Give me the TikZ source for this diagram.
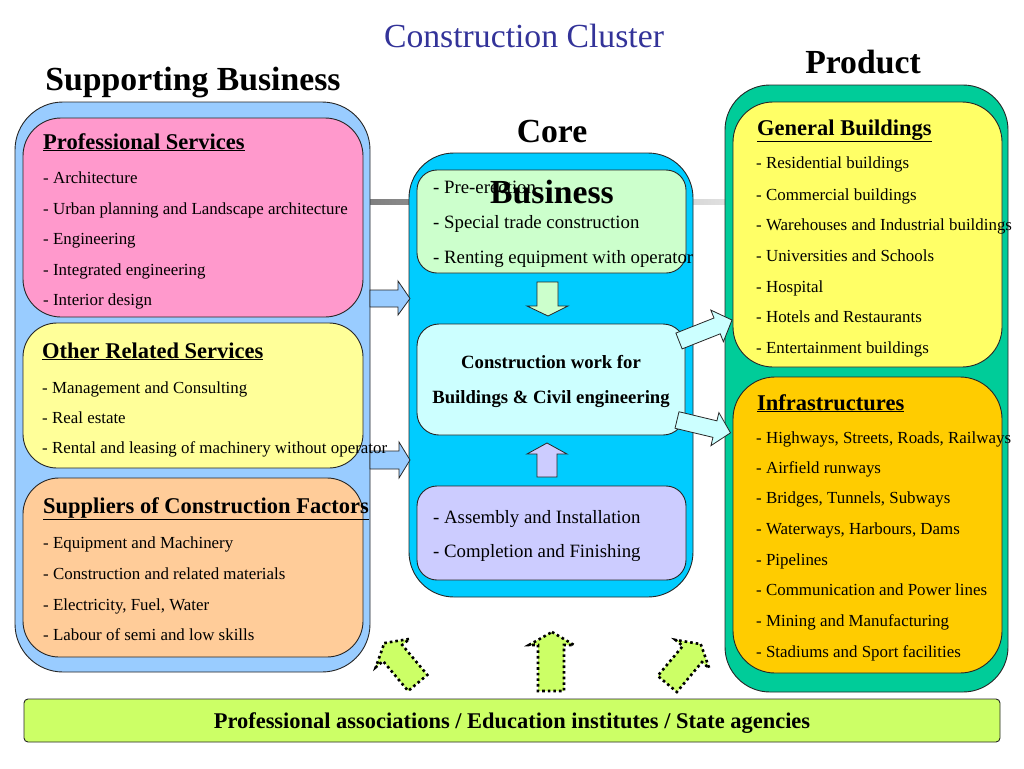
\documentclass[tikz,border=0pt]{standalone}
\usepackage{fontspec}
\setmainfont{Liberation Serif}
\definecolor{titleblue}{HTML}{333399}
\definecolor{lblue}{HTML}{99CCFF}
\definecolor{pinkbox}{HTML}{FF99CC}
\definecolor{lyellow}{HTML}{FFFF99}
\definecolor{lorange}{HTML}{FFCC99}
\definecolor{cyanpanel}{HTML}{00CCFF}
\definecolor{lgreen}{HTML}{CCFFCC}
\definecolor{lcyan}{HTML}{CCFFFF}
\definecolor{lavender}{HTML}{CCCCFF}
\definecolor{tealpanel}{HTML}{00CC99}
\definecolor{ryellow}{HTML}{FFFF66}
\definecolor{rorange}{HTML}{FFCC00}
\definecolor{barlime}{HTML}{CCFF66}
\begin{document}
\begin{tikzpicture}[x=1pt,y=-1pt,
  box/.style={draw=black!85, line width=0.9pt, inner sep=0pt, anchor=center, rectangle},
  item/.style={anchor=base west, inner sep=0pt, font=\fontsize{16.9}{19}\selectfont},
  citem/.style={anchor=base west, inner sep=0pt, font=\fontsize{18.8}{22}\selectfont},
  head/.style={anchor=base west, inner sep=0pt, font=\fontsize{22.5}{26}\selectfont\bfseries},
  ttl/.style={anchor=base, inner sep=0pt, font=\fontsize{33.7}{38}\selectfont\bfseries},
  barrow/.style={draw=black!85, line width=0.8pt, line join=miter},
  dotarrow/.style={draw=black, fill=barlime, line width=2.6pt, dash pattern=on 2.6pt off 3pt}]
\useasboundingbox (0,0) rectangle (1024,768);
\fill[white] (0,0) rectangle (1024,768);

% titles
\node[anchor=base, inner sep=0pt, font=\fontsize{33.7}{38}\selectfont, text=titleblue] (title) at (524,48) {Construction Cluster};
\node[ttl] (tsup) at (193,90) {Supporting Business};
\node[ttl] (tprod) at (863,74) {Product};
\node[ttl] (tcore) at (552,142) {Core};

% gray line behind core
\shade[left color=black!50, right color=black!12] (370,199.5) rectangle (725,204.5);

% left panel
\node[box, fill=lblue, rounded corners=48pt, minimum width=355pt, minimum height=570pt] (lpanel) at (192.5,387) {};
\node[box, fill=pinkbox, rounded corners=38pt, minimum width=340pt, minimum height=199pt] (prof) at (193,217.5) {};
\node[box, fill=lyellow, rounded corners=34pt, minimum width=340pt, minimum height=145pt] (other) at (193,395.5) {};
\node[box, fill=lorange, rounded corners=36pt, minimum width=340pt, minimum height=179pt] (supp) at (193,567.5) {};

% center panel
\node[box, fill=cyanpanel, rounded corners=45pt, minimum width=284pt, minimum height=444pt] (cpanel) at (551,375) {};
\node[box, fill=lgreen, rounded corners=20pt, minimum width=269pt, minimum height=103pt] (pre) at (551.5,221.5) {};
\node[box, fill=lcyan, rounded corners=22pt, minimum width=268pt, minimum height=111pt] (work) at (551,379.5) {};
\node[box, fill=lavender, rounded corners=20pt, minimum width=269pt, minimum height=94pt] (assy) at (551.5,533) {};

% right panel
\node[box, fill=tealpanel, rounded corners=45pt, minimum width=283pt, minimum height=607pt] (rpanel) at (866.5,388.5) {};
\node[box, fill=ryellow, rounded corners=40pt, minimum width=269pt, minimum height=265pt] (gen) at (867.5,234.5) {};
\node[box, fill=rorange, rounded corners=42pt, minimum width=269pt, minimum height=296pt] (infra) at (867.5,525) {};

% bottom bar
\node[box, fill=barlime, rounded corners=4pt, minimum width=976pt, minimum height=43pt] (bar) at (512,720.5) {};
\node[anchor=base, inner sep=0pt, font=\fontsize{22.45}{26}\selectfont\bfseries] (bartext) at (512,728) {Professional associations / Education institutes / State agencies};

% left to center arrows
\draw[barrow, fill=lblue] (370,290) -- (398,290) -- (398,281) -- (410,298.5) -- (398,315) -- (398,307) -- (370,307) -- cycle;
\draw[barrow, fill=lblue] (370,451) -- (399,451) -- (399,442) -- (410,460) -- (399,478) -- (399,469) -- (370,469) -- cycle;

% inner center arrows
\draw[barrow, fill=lgreen] (537,282) -- (558,282) -- (558,306) -- (568,306) -- (548,316) -- (527,306) -- (537,306) -- cycle;
\draw[barrow, fill=lavender] (537,477) -- (557,477) -- (557,454) -- (567,454) -- (547,443) -- (527,454) -- (537,454) -- cycle;

% center to right arrows
\begin{scope}[shift={(679,341)}, rotate=21.6]
\draw[barrow, fill=lcyan] (0,-8.5) -- (41,-8.5) -- (41,-17) -- (57,0) -- (41,17) -- (41,8.5) -- (0,8.5) -- cycle;
\end{scope}
\begin{scope}[shift={(677,420)}, rotate=-13.5]
\draw[barrow, fill=lcyan] (0,-8.5) -- (39,-8.5) -- (39,-17) -- (55,0) -- (39,17) -- (39,8.5) -- (0,8.5) -- cycle;
\end{scope}

% dotted arrows from the bar
\begin{scope}[shift={(401,663)}, rotate=40]
\draw[dotarrow] (0,-26) -- (22,-13) -- (12.5,-13) -- (12.5,26) -- (-12.5,26) -- (-12.5,-13) -- (-22,-13) -- cycle;
\end{scope}
\draw[dotarrow] (552,632) -- (574,645) -- (564,645) -- (564,691) -- (538,691) -- (538,645) -- (529,645) -- cycle;
\begin{scope}[shift={(684,664)}, rotate=-40]
\draw[dotarrow] (0,-26) -- (22,-13) -- (12.5,-13) -- (12.5,26) -- (-12.5,26) -- (-12.5,-13) -- (-22,-13) -- cycle;
\end{scope}

% left texts
\node[head] (hprof) at (43,149) {\underline{Professional Services}};
\node[item] at (43,183) {- Architecture};
\node[item] at (43,214) {- Urban planning and Landscape architecture};
\node[item] at (43,244) {- Engineering};
\node[item] at (43,275) {- Integrated engineering};
\node[item] at (43,305) {- Interior design};

\node[head] (hother) at (42,358) {\underline{Other Related Services}};
\node[item] at (42,393) {- Management and Consulting};
\node[item] at (42,423) {- Real estate};
\node[item] at (42,453) {- Rental and leasing of machinery without operator};

\node[head] (hsupp) at (43,513) {\underline{Suppliers of Construction Factors}};
\node[item] at (43,548) {- Equipment and Machinery};
\node[item] at (43,579) {- Construction and related materials};
\node[item] at (43,610) {- Electricity, Fuel, Water};
\node[item] at (43,640) {- Labour of semi and low skills};

% center texts
\node[citem] at (433,193) {- Pre-erection};
\node[citem] at (433,228) {- Special trade construction};
\node[citem] at (433,263) {- Renting equipment with operator};
\node[ttl] (tbus) at (552,203) {Business};
\node[anchor=base, inner sep=0pt, font=\fontsize{18.7}{22}\selectfont\bfseries] at (551,368) {Construction work for};
\node[anchor=base, inner sep=0pt, font=\fontsize{18.7}{22}\selectfont\bfseries] at (551,403) {Buildings \& Civil engineering};
\node[citem] at (433,523) {- Assembly and Installation};
\node[citem] at (433,557) {- Completion and Finishing};

% right texts
\node[head] (hgen) at (757,135) {\underline{General Buildings}};
\node[item] at (756,168) {- Residential buildings};
\node[item] at (756,200) {- Commercial buildings};
\node[item] at (756,230) {- Warehouses and Industrial buildings};
\node[item] at (756,261) {- Universities and Schools};
\node[item] at (756,292) {- Hospital};
\node[item] at (756,322) {- Hotels and Restaurants};
\node[item] at (756,353) {- Entertainment buildings};

\node[head] (hinfra) at (757,410) {\underline{Infrastructures}};
\node[item] at (756,443) {- Highways, Streets, Roads, Railways};
\node[item] at (756,473) {- Airfield runways};
\node[item] at (756,503) {- Bridges, Tunnels, Subways};
\node[item] at (756,534) {- Waterways, Harbours, Dams};
\node[item] at (756,565) {- Pipelines};
\node[item] at (756,595) {- Communication and Power lines};
\node[item] at (756,626) {- Mining and Manufacturing};
\node[item] at (756,657) {- Stadiums and Sport facilities};
\end{tikzpicture}
\end{document}
